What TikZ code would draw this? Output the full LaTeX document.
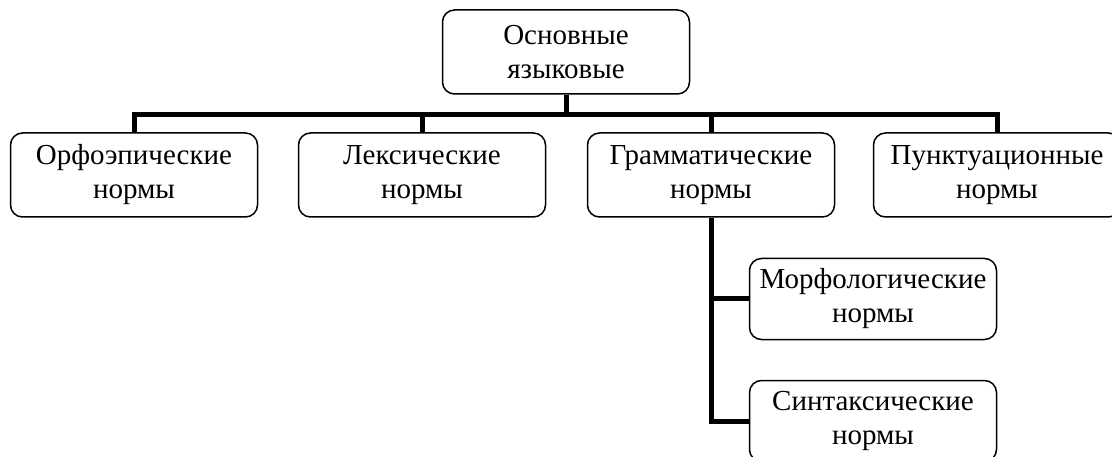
\documentclass[tikz,border=0pt]{standalone}
\usepackage{fontspec}
\setmainfont{Liberation Serif}
\usepackage{tikz}
\usetikzlibrary{calc}
\tikzset{normbox/.style={draw,line width=1.5pt,rounded corners=12pt,minimum width=247pt,minimum height=84pt,align=center,inner sep=2pt,font=\fontsize{29}{34}\selectfont},
	link/.style={line width=5pt}}

\begin{document}
\begin{tikzpicture}[x=1pt,y=-1pt]
	\useasboundingbox (0,0) rectangle (1112,457);
	\node[normbox] (top) at (566,52) {Основные\\языковые};
	\node[normbox] (orth) at (134,175) {Орфоэпические\\нормы};
	\node[normbox] (lex) at (422,175) {Лексические\\нормы};
	\node[normbox] (gram) at (711,175) {Грамматические\\нормы};
	\node[normbox] (punct) at (997,175) {Пунктуационные\\нормы};
	\node[normbox,minimum height=81pt] (morph) at (873,299) {Морфологические\\нормы};
	\node[normbox,minimum height=81pt] (synt) at (873,421) {Синтаксические\\нормы};
	\coordinate (bus) at (566,115);
	\draw[link] (top.south)--(bus);
	\draw[link] (orth.north) |- (bus) -| (punct.north);
	\draw[link] (lex.north)--(lex.north |- bus) (gram.north)--(gram.north |- bus);
	\draw[link] (gram.south) |- (synt.west) (morph.west)--(morph.west -| gram.south);
\end{tikzpicture}
\end{document}
